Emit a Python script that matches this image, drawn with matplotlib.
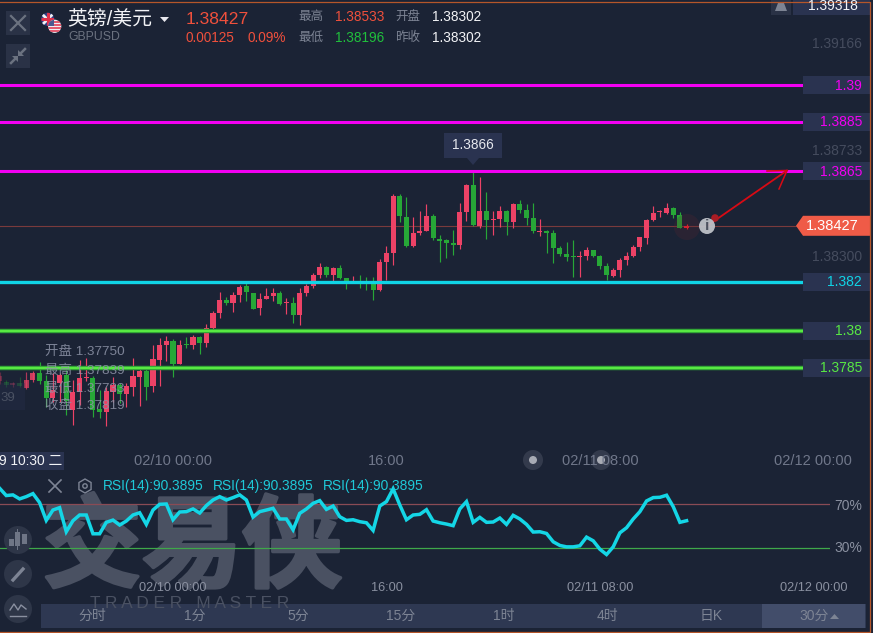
import numpy as np
import matplotlib
matplotlib.use("Agg")
import matplotlib.pyplot as plt
import matplotlib.patheffects as pe
from matplotlib.patches import Rectangle, Polygon, Circle, RegularPolygon

plt.rcParams['font.family'] = ['Liberation Sans', 'Noto Sans CJK SC', 'DejaVu Sans']

# 30 minute bars, bar 0 = 02/10 00:00
first_bar = -26
opens = [1.37795,1.37791,1.37779,1.37787,1.37767,1.37799,1.37828,1.37795,1.37726,1.37787,1.37820,1.37677,1.37751,
         1.37808,1.37808,1.37681,1.37669,1.37751,1.37779,1.37742,1.37771,1.37812,1.37836,1.37775,1.37881,1.37942,
         1.37958,1.37865,1.37946,1.37942,1.37974,1.37950,1.38011,1.38072,1.38125,1.38113,1.38145,1.38182,1.38153,
         1.38092,1.38129,1.38141,1.38153,1.38113,1.38113,1.38064,1.38153,1.38182,1.38227,1.38259,1.38227,1.38255,
         1.38215,1.38194,1.38202,1.38202,1.38190,1.38166,1.38280,1.38316,1.38548,1.38463,1.38345,1.38398,1.38406,
         1.38467,1.38373,1.38369,1.38357,1.38349,1.38483,1.38593,1.38426,1.38487,1.38451,1.38455,1.38487,1.38442,
         1.38516,1.38491,1.38459,1.38402,1.38406,1.38398,1.38337,1.38312,1.38304,1.38300,1.38304,1.38328,1.38304,
         1.38263,1.38223,1.38247,1.38288,1.38304,1.38341,1.38377,1.38451,1.38483,1.38479,1.38499,1.38471,1.38418]
highs = [1.37832,1.37799,1.37791,1.37812,1.37832,1.37836,1.37873,1.37820,1.37828,1.37828,1.37840,1.37799,1.37881,
         1.37889,1.37816,1.37759,1.37771,1.37812,1.37787,1.37787,1.37889,1.37848,1.37844,1.37942,1.37970,1.37979,
         1.37966,1.37962,1.37974,1.37983,1.37979,1.38027,1.38080,1.38158,1.38137,1.38158,1.38186,1.38194,1.38153,
         1.38153,1.38174,1.38174,1.38162,1.38133,1.38137,1.38174,1.38190,1.38235,1.38276,1.38263,1.38259,1.38267,
         1.38215,1.38223,1.38227,1.38219,1.38219,1.38292,1.38345,1.38556,1.38556,1.38544,1.38463,1.38487,1.38516,
         1.38475,1.38390,1.38373,1.38410,1.38520,1.38597,1.38654,1.38626,1.38565,1.38487,1.38508,1.38491,1.38520,
         1.38532,1.38516,1.38520,1.38455,1.38410,1.38410,1.38345,1.38361,1.38369,1.38324,1.38341,1.38328,1.38308,
         1.38276,1.38255,1.38296,1.38320,1.38349,1.38381,1.38455,1.38508,1.38491,1.38520,1.38504,1.38483,1.38434]
lows = [1.37783,1.37771,1.37771,1.37771,1.37763,1.37791,1.37783,1.37690,1.37710,1.37710,1.37657,1.37616,1.37698,
        1.37795,1.37649,1.37645,1.37612,1.37710,1.37706,1.37690,1.37734,1.37694,1.37718,1.37751,1.37775,1.37877,
        1.37812,1.37865,1.37930,1.37926,1.37905,1.37934,1.38003,1.38052,1.38105,1.38076,1.38117,1.38121,1.38088,
        1.38064,1.38129,1.38121,1.38105,1.38068,1.38031,1.38023,1.38141,1.38174,1.38215,1.38219,1.38202,1.38211,
        1.38170,1.38194,1.38174,1.38166,1.38125,1.38162,1.38206,1.38267,1.38442,1.38341,1.38341,1.38390,1.38406,
        1.38369,1.38280,1.38296,1.38308,1.38333,1.38447,1.38426,1.38418,1.38373,1.38390,1.38422,1.38390,1.38418,
        1.38479,1.38430,1.38398,1.38385,1.38316,1.38276,1.38304,1.38284,1.38219,1.38219,1.38288,1.38300,1.38251,
        1.38206,1.38219,1.38219,1.38267,1.38300,1.38324,1.38353,1.38447,1.38463,1.38475,1.38459,1.38418,1.38414]
closes = [1.37816,1.37779,1.37787,1.37775,1.37799,1.37828,1.37795,1.37726,1.37759,1.37820,1.37714,1.37751,1.37808,
          1.37812,1.37677,1.37669,1.37755,1.37779,1.37742,1.37775,1.37816,1.37836,1.37771,1.37885,1.37942,1.37958,
          1.37865,1.37942,1.37942,1.37974,1.37950,1.38011,1.38072,1.38125,1.38113,1.38145,1.38178,1.38158,1.38088,
          1.38129,1.38141,1.38153,1.38109,1.38117,1.38064,1.38153,1.38182,1.38227,1.38259,1.38227,1.38255,1.38215,
          1.38202,1.38202,1.38198,1.38198,1.38166,1.38280,1.38316,1.38548,1.38467,1.38345,1.38398,1.38406,1.38467,
          1.38377,1.38365,1.38357,1.38349,1.38483,1.38593,1.38430,1.38487,1.38451,1.38455,1.38487,1.38442,1.38516,
          1.38491,1.38459,1.38406,1.38406,1.38398,1.38337,1.38312,1.38300,1.38300,1.38304,1.38328,1.38304,1.38263,
          1.38227,1.38247,1.38288,1.38304,1.38341,1.38381,1.38451,1.38479,1.38487,1.38499,1.38471,1.38418,1.38426]

rsi = [84.9,78.1,78.7,75.0,77.1,79.9,71.6,55.1,64.7,66.9,44.6,54.8,60.1,60.1,42.7,42.7,53.3,55.4,50.8,54.5,60.1,62.2,
       51.4,64.7,70.0,70.3,55.7,62.9,63.2,65.7,61.9,68.8,74.0,77.1,74.0,76.2,78.7,74.0,58.2,63.2,64.7,66.3,56.4,56.4,
       46.4,61.6,65.7,70.9,73.4,65.3,68.4,58.5,55.1,55.7,53.9,52.9,45.8,68.4,72.5,84.3,69.4,55.7,60.1,60.7,65.0,54.5,
       52.9,51.7,50.2,65.7,72.5,53.3,57.9,53.3,53.6,57.3,51.4,59.8,56.4,51.4,44.3,44.6,43.0,35.3,31.9,30.6,30.6,31.6,
       39.6,36.2,28.4,23.5,30.6,43.6,48.3,56.4,63.2,73.1,76.2,76.5,78.4,67.8,53.3,54.8]

magenta_levels = [1.39, 1.3885, 1.3865]
cyan_levels = [1.382]
green_levels = [1.38, 1.3785]
axis_prices = ["1.39166", "1.38733", "1.38300"]
axis_prices_y = [1.39166, 1.38733, 1.38300]
last_price = 1.38427
time_ticks = [0, 32, 64, 96]
time_labels = ["02/10 00:00", "16:00", "02/11 08:00", "02/12 00:00"]
period_labels = ["分时", "1分", "5分", "15分", "1时", "4时", "日K"]
period_x = [92, 195, 298, 401, 504, 607, 711]

BG = "#1b2335"
BOX = "#2a3350"
RED = "#ec4266"
GREEN = "#27a737"
W, H = 873, 633


def price_at(y):
    return 1.39346 - y * 4.07e-5


def rsi_at(y):
    return 30 + (547.5 - y) / 1.08


def bar_at(x):
    return (x - 173) / 6.67


def pixel_axes(x0, y0, x1, y1, z):
    a = fig.add_axes([x0 / W, 1 - y1 / H, (x1 - x0) / W, (y1 - y0) / H], zorder=z)
    a.patch.set_alpha(0)
    a.axis("off")
    return a


fig = plt.figure(figsize=(W / 100, H / 100), dpi=100, facecolor=BG)

# background layer in pixel coords
bg = pixel_axes(0, 0, W, H, 0)
bg.set_xlim(0, W)
bg.set_ylim(H, 0)

# price panel
ax = pixel_axes(0, 15, 803, 445, 1)
ax.set_xlim(bar_at(0), bar_at(803))
ax.set_ylim(price_at(445), price_at(15))
idx = np.arange(first_bar, first_bar + len(closes))
o, h, l, c = map(np.array, (opens, highs, lows, closes))
colors = np.where(c >= o, RED, GREEN).tolist()
colors[-1] = "#ff2030"
# the left edge of the chart fades out
alphas = np.interp(173 + idx * 6.67, [0, 20, 26, 40], [0.3, 0.35, 0.7, 1])
for i in range(len(idx)):
    ax.vlines(idx[i], l[i], h[i], color=colors[i], lw=0.85, alpha=alphas[i], zorder=2)
    ax.bar(idx[i], max(abs(c[i] - o[i]), 5e-5), 0.76, bottom=min(o[i], c[i]), color=colors[i],
           alpha=alphas[i], linewidth=0, zorder=2)
ax.axhline(last_price, xmax=796 / 803, color="#7a3a3c", lw=0.8, zorder=1)
for v in magenta_levels:
    ax.axhline(v, color="#f200f2", lw=2.2, zorder=3)
for v in cyan_levels:
    ax.axhline(v, color="#10d4e6", lw=2.4, zorder=3)
for v in green_levels:
    ax.axhline(v, color="#2f9e35", lw=3.2, zorder=3)
    ax.axhline(v, color="#58e843", lw=1.6, zorder=3)

# rsi panel
ax_rsi = pixel_axes(0, 470, 830, 600, 2)
ax_rsi.set_xlim(bar_at(0), bar_at(830))
ax_rsi.set_ylim(rsi_at(600), rsi_at(470))
ax_rsi.axhline(70, color="#8a4b55", lw=0.9)
ax_rsi.axhline(30, color="#3fa84a", lw=0.9)
ax_rsi.plot(idx, rsi, color="#14d6e6", lw=2.5, solid_joinstyle="miter")

# ui layer
ui = pixel_axes(0, 0, W, H, 3)
ui.set_xlim(0, W)
ui.set_ylim(H, 0)


def label(x, y, s, color, size, ha="left", a=ui, **kw):
    a.text(x, y, s, color=color, fontsize=size, ha=ha, va="center", **kw)


def rect(x0, y0, x1, y1, color, a=ui, **kw):
    a.add_patch(Rectangle((x0, y0), x1 - x0, y1 - y0, facecolor=color, edgecolor="none", **kw))


def tri(pts, color, a=ui):
    a.add_patch(Polygon(pts, facecolor=color, edgecolor="none"))


# watermark goes under the rsi line
label(192, 552, "交易侠", "#4a5162", 72, ha="center", a=bg, fontweight="bold",
      path_effects=[pe.withStroke(linewidth=2.5, foreground="#4a5162")])
rect(41, 604, 866, 628, "#2e3852", a=bg)
label(190, 603, "T R A D E R   M A S T E R", "#4a5162", 12.4, ha="center", a=bg)
rect(762, 604, 865, 628, "#424d6a", a=bg)

# header
rect(6, 11, 30, 35, "#2a3246")
rect(6, 44, 30, 68, "#2a3246")
ui.plot([11, 25], [16, 30], color="#6b7280", lw=1.6)
ui.plot([11, 25], [30, 16], color="#6b7280", lw=1.6)
ui.plot([11, 16], [63, 58], color="#6b7280", lw=1.8)
ui.plot([20, 25], [54, 49], color="#6b7280", lw=1.8)
tri([[18, 56], [18, 62], [12, 56]], "#6b7280")
tri([[18, 56], [18, 50], [24, 56]], "#6b7280")

# flags, stripes clipped to their circles
uk = Circle((47.7, 19.3), 6.6, facecolor="#2c3f86", edgecolor="none")
ui.add_patch(uk)
for xs, ys, col, w in [([41, 54], [13, 26], "#f0f0f4", 2), ([41, 54], [26, 13], "#f0f0f4", 2),
                       ([41, 54], [19.3, 19.3], "#e0304a", 2.2), ([47.7, 47.7], [12, 26], "#e0304a", 2.2)]:
    ui.plot(xs, ys, color=col, lw=w, clip_path=uk, solid_capstyle="butt")
us = Circle((54.7, 26.3), 6.6, facecolor="#f0f0f4", edgecolor="none", zorder=2.1)
ui.add_patch(us)
for y in (21.5, 24.5, 27.5, 30.5):
    ui.plot([47, 62], [y, y], color="#e0304a", lw=1.1, clip_path=us, solid_capstyle="butt", zorder=2.2)
r_us = Rectangle((47, 19), 6.5, 7, facecolor="#4a5a90", edgecolor="none", zorder=2.3)
ui.add_patch(r_us)
r_us.set_clip_path(us)

label(67, 20, "英镑/美元", "#f2f3f6", 14.3)
tri([[160, 17], [169, 17], [164.5, 22]], "#e8e8ee")
label(68, 37.5, "GBPUSD", "#6b7280", 8.8)
label(186, 19, "1.38427", "#f0503c", 12.6)
label(186, 38, "0.00125", "#f0503c", 9.8)
label(248, 38, "0.09%", "#f0503c", 9.8)
label(298, 17, "最高", "#7d8494", 9)
label(335, 17, "1.38533", "#f0503c", 9.8)
label(395, 17, "开盘", "#7d8494", 9)
label(432, 17, "1.38302", "#f2f3f6", 9.8)
label(298, 38, "最低", "#7d8494", 9)
label(335, 38, "1.38196", "#20c03c", 9.8)
label(395, 38, "昨收", "#7d8494", 9)
label(432, 38, "1.38302", "#f2f3f6", 9.8)

# right axis
rect(771, 0, 791, 15, "#2a3246")
tri([[775, 11], [787, 11], [784, 3], [778, 3]], "#7d8494")
rect(793, 0, 870, 15, BOX)
label(858, 6.5, "1.39318", "#f2f3f6", 10, ha="right")
for s, v in zip(axis_prices, axis_prices_y):
    label(862, (1.39346 - v) / 4.07e-5, s, "#454c5e", 10, ha="right")
for v, col in [(v, "#f200f2") for v in magenta_levels] + [(v, "#10d4e6") for v in cyan_levels] + [(v, "#58e843") for v in green_levels]:
    y = (1.39346 - v) / 4.07e-5
    rect(803, y - 9, 870, y + 9, BOX)
    label(862, y + 0.5, f"{v:g}", col, 10, ha="right")
y_last = (1.39346 - last_price) / 4.07e-5
tri([[796, y_last], [803, y_last - 10], [870, y_last - 10], [870, y_last + 10], [803, y_last + 10]], "#ef5b47")
label(859, y_last, f"{last_price:.5f}", "#ffffff", 10.5, ha="right")

# annotation on the chart
rect(444, 133, 502, 158, BOX)
tri([[467, 158], [479, 158], [473, 165]], BOX)
label(473, 145, "1.3866", "#e6e8ee", 9.8, ha="center")
ui.add_patch(Circle((687, 227), 13, facecolor="#5a2430", edgecolor="none", alpha=0.25))
ui.plot([707, 787], [226, 170.5], color="#d80a14", lw=1.3)
ui.plot([767, 787, 779], [171, 170.5, 189], color="#d80a14", lw=1.1)
ui.add_patch(Circle((715, 218), 3.8, facecolor="#a81c24", edgecolor="none", zorder=2.5))
ui.add_patch(Circle((707, 226), 8, facecolor="#bfc2c9", edgecolor="none", alpha=0.94, zorder=2.6))
label(707, 226.5, "i", "#4d5260", 11, ha="center", fontweight="bold")

# crosshair tooltip
rect(0, 383, 25, 410, "#2a3350", alpha=0.3)
label(0, 398, "39", "#4a5162", 9.5)
for y, s in zip([352, 371, 389, 406], ["开盘 1.37750", "最高 1.37839", "最低 1.37733", "收盘 1.37819"]):
    label(45, y, s, "#8e94a8", 9.7, alpha=0.85)

# time axis
rect(0, 452, 64, 470, BOX)
label(-1, 461, "9 10:30 二", "#f2f3f6", 9.9)
for t, s in zip(time_ticks, time_labels):
    label(173 + t * 6.67, 461, s, "#70778a", 10.5, ha="center")
    label(173 + t * 6.67, 588, s, "#8a90a0", 9.2, ha="center")
for x in (533, 601):
    ui.add_patch(Circle((x, 460), 10, facecolor="#3a4152", edgecolor="none", alpha=0.8))
    ui.add_patch(Circle((x, 460), 4, facecolor="#a8abb4", edgecolor="none"))

# rsi header
ui.plot([49, 61], [480, 492], color="#7d8494", lw=1.2)
ui.plot([49, 61], [492, 480], color="#7d8494", lw=1.2)
ui.add_patch(RegularPolygon((85, 486), 6, radius=7, facecolor="none", edgecolor="#7d8494", lw=1))
ui.add_patch(Circle((85, 486), 2.2, facecolor="none", edgecolor="#7d8494", lw=1))
for x in (103, 213, 323):
    label(x, 486, "RSI(14):90.3895", "#1fc9d8", 9.9)
label(862, 505.5, "70%", "#8a90a0", 10, ha="right")
label(862, 548, "30%", "#8a90a0", 10, ha="right")

# left tool buttons
for y in (540, 574, 609):
    ui.add_patch(Circle((18, y), 14, facecolor="#2e3648", edgecolor="none"))
for x, y0, y1 in [(11, 539, 546), (17, 532, 546), (24, 534, 544)]:
    rect(x - 2.5, y0, x + 2.5, y1, "#6f7686")
ui.plot([17, 17], [529, 549], color="#6f7686", lw=0.7)
ui.plot([13, 23], [580, 569], color="#7d8494", lw=2.4)
ui.plot([10, 14, 18, 21, 26], [610, 604, 610, 605, 609], color="#8a90a0", lw=1)
ui.plot([10, 26], [616, 616], color="#8a90a0", lw=1)

# period bar
for x, s in zip(period_x, period_labels):
    label(x, 616, s, "#7d8494", 10, ha="center")
label(814, 616, "30分", "#7d8494", 10, ha="center")
tri([[830, 619], [839, 619], [834.5, 614]], "#7d8494")

# outer frame
ui.plot([0, 870, 870, 0], [1.5, 1.5, 631.5, 631.5], color="#b5562a", lw=0.9)

fig.savefig("out.png", dpi=100, facecolor=BG)
